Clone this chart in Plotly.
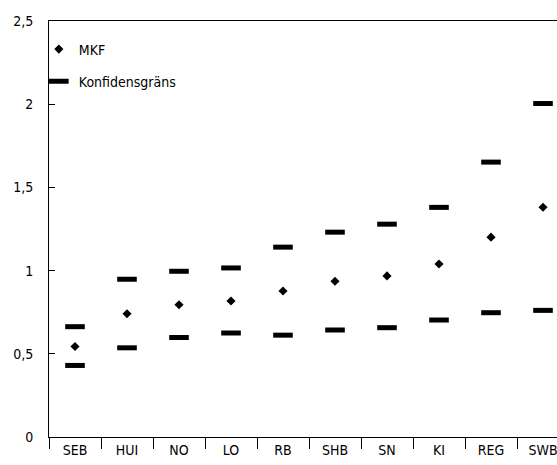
import plotly.graph_objects as go

# Organisation codes along the x axis
categories = ["SEB", "HUI", "NO", "LO", "RB", "SHB", "SN", "KI", "REG", "SWB"]

# Mean value (MKF) and its confidence limits per organisation
mkf = [0.544, 0.741, 0.795, 0.817, 0.877, 0.936, 0.968, 1.040, 1.201, 1.381]
upper_limit = [0.663, 0.948, 0.996, 1.016, 1.141, 1.231, 1.279, 1.380, 1.652, 2.004]
lower_limit = [0.430, 0.536, 0.598, 0.625, 0.612, 0.643, 0.657, 0.703, 0.747, 0.761]

FONT = "DejaVu Sans Condensed, Liberation Sans Narrow, sans-serif"
NBSP = "\u00a0"
W, H = 557, 465
ML, MT, MB = 49, 21, 28
CAT_PX = 52  # pixel width of one category slot
x_hi = -0.5 + (W - ML) / CAT_PX

limit_marker = dict(symbol="line-ew-open", size=14, color="black",
                    line=dict(color="black", width=5))

fig = go.Figure()

fig.add_trace(go.Scatter(
    x=categories, y=mkf, mode="markers", name="MKF",
    legendgroup="mkf",
    marker=dict(symbol="diamond", size=7, color="black"),
))
fig.add_trace(go.Scatter(
    x=categories, y=upper_limit, mode="markers", name="Konfidensgräns",
    legendgroup="ci", marker=limit_marker,
))
fig.add_trace(go.Scatter(
    x=categories, y=lower_limit, mode="markers", name="Konfidensgräns",
    legendgroup="ci", showlegend=False, marker=limit_marker,
))

fig.update_layout(
    width=W, height=H,
    margin=dict(l=ML, r=0, t=MT, b=MB, pad=0),
    paper_bgcolor="white", plot_bgcolor="white",
    separators=", ",
    font=dict(family=FONT, size=14, color="black"),
    showlegend=True,
    legend=dict(
        x=-0.02, y=0.97, xanchor="left", yanchor="top",
        bgcolor="rgba(0,0,0,0)", borderwidth=0,
        tracegroupgap=11, font=dict(family=FONT, size=14),
    ),
    xaxis=dict(
        type="category", categoryorder="array", categoryarray=categories,
        range=[-0.5, x_hi],
        showline=True, linecolor="#000000", linewidth=1, mirror=True,
        showgrid=False, zeroline=False,
        tickson="boundaries", ticks="outside", ticklen=11,
        tickcolor="black", tickwidth=1,
    ),
    yaxis=dict(
        range=[0, 2.5], tickmode="linear", tick0=0, dtick=0.5,
        showline=True, linecolor="#000000", linewidth=1,
        showgrid=False, zeroline=False,
        ticks="inside", ticklen=6, tickcolor="black", tickwidth=1,
        ticksuffix=NBSP * 3,
    ),
)

fig.write_html("out.html")
